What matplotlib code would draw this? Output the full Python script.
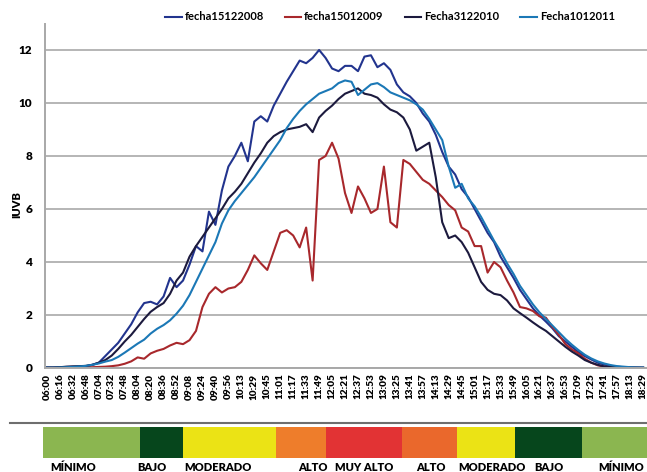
import numpy as np
import matplotlib
matplotlib.use("Agg")
import matplotlib.pyplot as plt
from matplotlib.lines import Line2D

plt.rcParams['font.family'] = ['Lato', 'DejaVu Sans']

# hour labels of the x axis (categorical, one every ~16 min)
horas = ['06:00', '06:16', '06:32', '06:48', '07:04', '07:32', '07:48', '08:04',
         '08:20', '08:36', '08:52', '09:08', '09:24', '09:40', '09:56', '10:13',
         '10:29', '10:45', '11:01', '11:17', '11:33', '11:49', '12:05', '12:21',
         '12:37', '12:53', '13:09', '13:25', '13:41', '13:57', '14:13', '14:29',
         '14:45', '15:01', '15:17', '15:33', '15:49', '16:05', '16:21', '16:37',
         '16:53', '17:09', '17:25', '17:41', '17:57', '18:13', '18:29']

# samples every half label step
pos = np.arange(93) * 0.5

f2008 = [0.02, 0.02, 0.03, 0.04, 0.05, 0.05, 0.07, 0.12, 0.2, 0.45,
         0.7, 0.95, 1.3, 1.65, 2.1, 2.45, 2.5, 2.4, 2.7, 3.4,
         3.05, 3.3, 3.9, 4.6, 4.4, 5.9, 5.4, 6.7, 7.6, 8.0,
         8.5, 7.8, 9.3, 9.5, 9.3, 9.9, 10.35, 10.8, 11.2, 11.6,
         11.5, 11.7, 12.0, 11.7, 11.3, 11.2, 11.4, 11.4, 11.2, 11.75,
         11.8, 11.35, 11.5, 11.25, 10.7, 10.4, 10.25, 10.0, 9.6, 9.3,
         8.8, 8.15, 7.6, 7.3, 6.75, 6.45, 6.0, 5.55, 5.1, 4.75,
         4.2, 3.8, 3.4, 2.95, 2.6, 2.25, 1.98, 1.75, 1.5, 1.2,
         1.0, 0.8, 0.6, 0.45, 0.32, 0.2, 0.13, 0.08, 0.05, 0.03,
         0.02, 0.02, 0.01]

f2009 = [0.0, 0.0, 0.01, 0.01, 0.02, 0.02, 0.03, 0.03, 0.04, 0.05,
         0.07, 0.1, 0.16, 0.25, 0.4, 0.35, 0.55, 0.65, 0.72, 0.85,
         0.95, 0.9, 1.05, 1.4, 2.3, 2.8, 3.05, 2.85, 3.0, 3.05,
         3.25, 3.7, 4.25, 3.95, 3.7, 4.4, 5.1, 5.2, 5.0, 4.55,
         5.3, 3.3, 7.85, 8.0, 8.5, 7.9, 6.6, 5.85, 6.85, 6.4,
         5.85, 6.0, 7.6, 5.5, 5.3, 7.85, 7.7, 7.4, 7.1, 6.95,
         6.7, 6.45, 6.15, 5.95, 5.3, 5.15, 4.6, 4.6, 3.6, 4.0,
         3.8, 3.3, 2.85, 2.3, 2.25, 2.15, 1.95, 1.9, 1.55, 1.25,
         0.9, 0.7, 0.55, 0.35, 0.2, 0.1, 0.05, 0.03, 0.02, 0.01,
         0.01, 0.01, 0.01]

f2010 = [0.02, 0.02, 0.03, 0.05, 0.06, 0.07, 0.08, 0.12, 0.2, 0.3,
         0.47, 0.72, 1.0, 1.25, 1.55, 1.85, 2.12, 2.3, 2.45, 2.8,
         3.3, 3.6, 4.2, 4.6, 4.95, 5.3, 5.65, 6.0, 6.4, 6.65,
         6.95, 7.35, 7.75, 8.1, 8.5, 8.75, 8.9, 9.0, 9.05, 9.1,
         9.2, 8.9, 9.45, 9.7, 9.9, 10.15, 10.35, 10.45, 10.55, 10.35,
         10.3, 10.2, 9.95, 9.75, 9.65, 9.45, 9.0, 8.2, 8.35, 8.5,
         7.2, 5.5, 4.9, 5.0, 4.75, 4.35, 3.8, 3.25, 2.95, 2.8,
         2.75, 2.55, 2.25, 2.07, 1.9, 1.72, 1.55, 1.4, 1.2, 1.0,
         0.8, 0.62, 0.47, 0.3, 0.2, 0.12, 0.06, 0.04, 0.03, 0.02,
         0.02, 0.01, 0.01]

f2011 = [0.01, 0.01, 0.02, 0.03, 0.04, 0.06, 0.08, 0.12, 0.17, 0.24,
         0.3, 0.42, 0.58, 0.75, 0.92, 1.07, 1.3, 1.48, 1.62, 1.8,
         2.05, 2.35, 2.75, 3.25, 3.75, 4.25, 4.75, 5.45, 5.95, 6.3,
         6.6, 6.9, 7.2, 7.55, 7.9, 8.25, 8.6, 9.05, 9.4, 9.7,
         9.95, 10.15, 10.35, 10.45, 10.55, 10.75, 10.85, 10.8, 10.3, 10.5,
         10.7, 10.75, 10.6, 10.4, 10.3, 10.2, 10.1, 9.95, 9.75, 9.4,
         9.0, 8.6, 7.6, 6.8, 6.95, 6.4, 6.1, 5.7, 5.25, 4.8,
         4.4, 3.95, 3.55, 3.1, 2.75, 2.4, 2.1, 1.85, 1.6, 1.35,
         1.1, 0.88, 0.68, 0.5, 0.36, 0.25, 0.17, 0.11, 0.07, 0.05,
         0.03, 0.02, 0.02]

series = [('fecha15122008', f2008, '#22348e'),
          ('fecha15012009', f2009, '#a8282c'),
          ('Fecha3122010', f2010, '#1c1a3e'),
          ('Fecha1012011', f2011, '#1b78b6')]

# UV risk bands under the axis
banda_bordes = [-0.35, 7.15, 10.5, 17.65, 21.5, 27.4, 31.6, 36.1, 41.3, 46.4]
banda_colores = ['#8bb650', '#06461c', '#ebe315', '#ee7d2b', '#e23334',
                 '#ea682c', '#ebe315', '#06461c', '#8bb650']
banda_nombres = ['MÍNIMO', 'BAJO', 'MODERADO', 'ALTO', 'MUY ALTO',
                 'ALTO', 'MODERADO', 'BAJO', 'MÍNIMO']
banda_texto_x = [2.0, 8.1, 13.2, 20.5, 24.5, 29.6, 34.3, 38.7, 44.3]

fig = plt.figure(figsize=(6.47, 4.72), dpi=100)
ax = fig.add_axes([45 / 647, 104 / 472, 602 / 647, 344 / 472])

for nombre, valores, color in series:
    ax.plot(pos, valores, color=color, lw=1.5, label=nombre)

ax.set_xlim(-0.15, 46.3)
ax.set_ylim(0, 12.98)
ax.set_yticks(range(0, 13, 2))
ax.set_xticks(range(len(horas)))
ax.set_xticklabels(horas, rotation=90, fontsize=7.2, fontweight='heavy')
ax.tick_params(axis='y', length=0, pad=9, labelsize=8.5)
for t in ax.get_yticklabels():
    t.set_fontweight('heavy')
ax.tick_params(axis='x', length=0, pad=4)
ax.grid(axis='y', color='#b5b5b5', lw=1.4)
ax.set_axisbelow(True)
for s in ['top', 'right']:
    ax.spines[s].set_visible(False)
for s in ['left', 'bottom']:
    ax.spines[s].set_color('#a8a8a8')
    ax.spines[s].set_linewidth(1.4)

fig.text(17 / 647, 1 - 205 / 472, 'IUVB', rotation=90, fontsize=8,
         fontweight='heavy', ha='center', va='center')

ax.legend(loc='center', bbox_to_anchor=(390 / 647, 1 - 17 / 472),
          bbox_transform=fig.transFigure, ncol=4, frameon=False,
          prop={'size': 8, 'weight': 'bold'}, handlelength=1.5,
          handletextpad=0.25, columnspacing=1.9)

# separator line and risk bar
fig.add_artist(Line2D([10 / 647, 1.0], [1 - 423 / 472, 1 - 423 / 472],
                      color='#6e6e6e', lw=1.5, transform=fig.transFigure))
bx = fig.add_axes([42.5 / 647, 1 - 458 / 472, 604.5 / 647, 31 / 472])
bx.set_xlim(-0.35, 46.3)
bx.set_ylim(0, 1)
for i, c in enumerate(banda_colores):
    bx.axvspan(banda_bordes[i], banda_bordes[i + 1], color=c, lw=0)
bx.axis('off')
for x, t in zip(banda_texto_x, banda_nombres):
    bx.text(x, -0.3, t, ha='center', va='center', fontsize=8,
            fontweight='heavy')

fig.savefig('out.png', dpi=100)
